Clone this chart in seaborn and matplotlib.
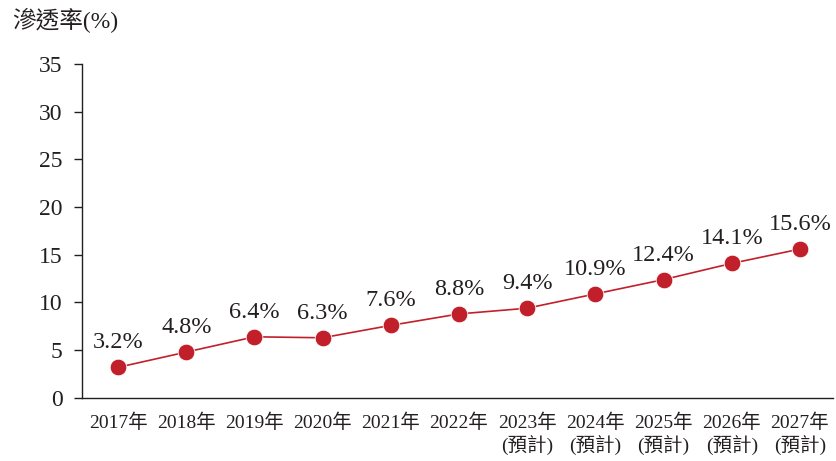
import seaborn as sns
import matplotlib.pyplot as plt
import pandas as pd

years = ["2017年", "2018年", "2019年", "2020年", "2021年", "2022年",
         "2023年\n(預計)", "2024年\n(預計)", "2025年\n(預計)",
         "2026年\n(預計)", "2027年\n(預計)"]
rates = [3.2, 4.8, 6.4, 6.3, 7.6, 8.8, 9.4, 10.9, 12.4, 14.1, 15.6]
labels = ["3.2%", "4.8%", "6.4%", "6.3%", "7.6%", "8.8%", "9.4%",
          "10.9%", "12.4%", "14.1%", "15.6%"]

df = pd.DataFrame({"x": range(len(years)), "rate": rates})

sns.set_style("white")
plt.rcParams["font.family"] = ["Liberation Serif", "Noto Sans CJK TC"]
text_color = "#231f20"
red = "#c1202b"

fig = plt.figure(figsize=(8.36, 4.61), dpi=100)
ax = fig.add_axes([0.098, 0.137, 0.898, 0.724])

sns.lineplot(data=df, x="x", y="rate", ax=ax, color=red, linewidth=1.2,
             marker="o", markersize=12, markeredgecolor="white",
             markeredgewidth=0.6)

for i, (v, lab) in enumerate(zip(rates, labels)):
    ax.annotate(lab, (i, v), xytext=(0, 10), textcoords="offset points",
                ha="center", va="bottom", fontsize=17.5, color=text_color)

ax.set_xlim(-0.53, 10.48)
ax.set_ylim(0, 35)
ax.set_yticks(range(0, 36, 5))
ax.set_xticks(range(len(years)))
ax.set_xticklabels(years, fontsize=14, color=text_color, linespacing=1.3)
ax.tick_params(axis="y", labelsize=17, labelcolor=text_color, length=6,
               width=1, color=text_color, left=True, pad=8)
ax.tick_params(axis="x", length=0, pad=11)
ax.set_xlabel("")
ax.set_ylabel("")
for s in ["top", "right"]:
    ax.spines[s].set_visible(False)
for s in ["left", "bottom"]:
    ax.spines[s].set_color(text_color)
    ax.spines[s].set_linewidth(1.0)

fig.text(0.014, 0.955, "滲透率(%)", fontsize=17, color=text_color,
         ha="left", va="center")

fig.savefig("out.png", dpi=100)
